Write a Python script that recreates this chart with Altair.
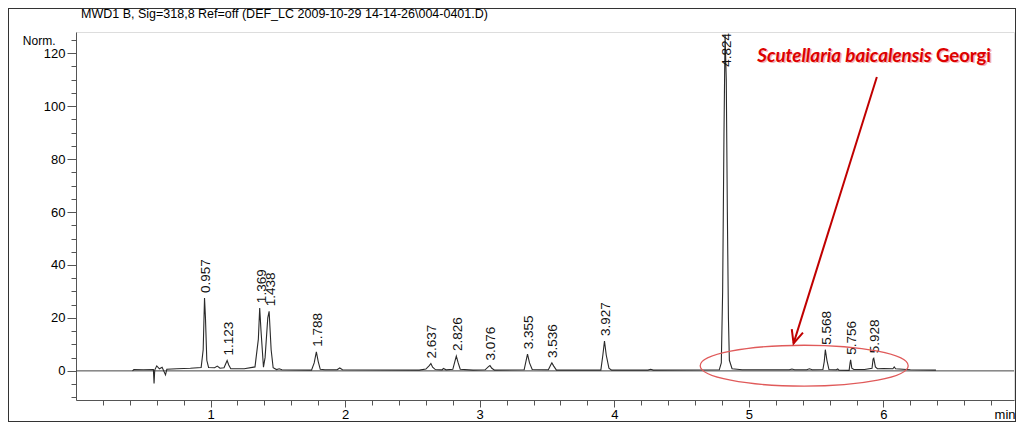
import altair as alt
import pandas as pd

# ---------------- data ----------------
TITLE = "MWD1 B, Sig=318,8 Ref=off (DEF_LC 2009-10-29 14-14-26\\004-0401.D)"

# chromatogram trace (time in min, signal in Norm.)
trace_t = [0.42, 0.43, 0.50, 0.575, 0.58, 0.585, 0.60, 0.62, 0.64, 0.665, 0.675, 0.75, 0.85, 0.93,
           0.945, 0.955, 0.962, 0.972, 0.985, 1.03, 1.05, 1.07, 1.10, 1.115, 1.123, 1.135, 1.15,
           1.25, 1.33, 1.355, 1.365, 1.375, 1.393, 1.405, 1.425, 1.435, 1.45, 1.465, 1.49, 1.51,
           1.53, 1.75, 1.77, 1.786, 1.80, 1.815, 1.85, 1.94, 1.96, 1.98, 2.55, 2.60, 2.625, 2.637,
           2.65, 2.67, 2.72, 2.73, 2.75, 2.80, 2.815, 2.826, 2.84, 2.855, 2.95, 3.04, 3.065, 3.076,
           3.09, 3.11, 3.33, 3.345, 3.355, 3.37, 3.39, 3.51, 3.53, 3.536, 3.55, 3.57, 3.90, 3.915,
           3.927, 3.94, 3.96, 3.98, 4.25, 4.27, 4.29, 4.78, 4.795, 4.805, 4.815, 4.823, 4.832, 4.84,
           4.848, 4.855, 4.875, 4.95, 5.30, 5.32, 5.34, 5.43, 5.45, 5.47, 5.55, 5.56, 5.568, 5.58,
           5.595, 5.65, 5.66, 5.67, 5.745, 5.752, 5.756, 5.765, 5.78, 5.86, 5.915, 5.923, 5.928,
           5.94, 5.955, 6.00, 6.07, 6.08, 6.09, 6.20, 6.39]
trace_v = [0.0, 0.5, 0.4, 0.5, -4.8, 0.3, 1.9, 0.8, 1.4, -1.5, 0.6, 0.8, 1.0, 1.3,
           8.0, 27.5, 20.0, 4.0, 1.3, 1.2, 1.8, 1.0, 1.2, 3.0, 3.9, 2.2, 0.8,
           0.8, 1.5, 12.0, 23.7, 15.0, 1.4, 5.0, 20.0, 22.5, 8.0, 1.2, 0.5, 0.8,
           0.4, 0.3, 3.0, 7.2, 3.5, 0.6, 0.4, 0.4, 1.1, 0.4, 0.3, 0.7, 2.0, 2.8,
           1.4, 0.5, 0.4, 0.9, 0.4, 0.6, 3.5, 5.6, 3.0, 0.6, 0.3, 0.4, 1.6, 2.0,
           1.0, 0.3, 0.4, 4.0, 6.3, 3.0, 0.5, 0.4, 2.5, 3.0, 1.8, 0.3, 0.3, 6.0,
           11.3, 6.0, 1.0, 0.3, 0.3, 0.6, 0.3, 0.4, 3.0, 30.0, 90.0, 127.0, 110.0, 60.0,
           20.0, 4.0, 0.8, 0.4, 0.4, 0.7, 0.4, 0.4, 0.8, 0.4, 0.5, 3.5, 8.0, 4.0,
           0.5, 0.4, 0.7, 0.3, 0.2, 3.0, 4.2, 1.0, 0.5, 0.5, 1.0, 4.5, 4.8,
           1.5, 0.8, 0.9, 0.8, 1.5, 0.8, 0.4, 0.3]

# peak retention-time labels and apex heights
peak_labels = ["0.957", "1.123", "1.369", "1.438", "1.788", "2.637", "2.826", "3.076",
               "3.355", "3.536", "3.927", "4.824", "5.568", "5.756", "5.928"]
peak_times = [0.957, 1.123, 1.369, 1.438, 1.788, 2.637, 2.826, 3.076,
              3.355, 3.536, 3.927, 4.824, 5.568, 5.756, 5.928]
peak_heights = [27.5, 3.9, 23.7, 22.5, 7.2, 2.8, 5.6, 2.0,
                6.3, 3.0, 11.3, 127.0, 8.0, 4.2, 4.8]

# annotation (species name, arrow, ellipse) in data coordinates
species_italic = "Scutellaria baicalensis"
species_plain = "Georgi"
species_t = [5.062, 6.39]
species_v = [119.0, 119.0]
arrow_t = [5.951, 5.332]
arrow_v = [111.0, 10.4]
ellipse_t = [5.411]
ellipse_v = [1.95]

x_major = [1, 2, 3, 4, 5, 6]
x_minor = [round(0.2 * i, 1) for i in range(1, 35) if i % 5 != 0]
y_major = [0, 20, 40, 60, 80, 100, 120]
y_minor = [v for v in range(-10, 126, 5) if v % 20 != 0]

# ---------------- chart ----------------
FONT = "Liberation Sans, Arial, sans-serif"
W, H = 938, 368
PAD = {"left": 68, "top": 24, "right": 2, "bottom": 22}
AX = "#555555"

xs = alt.Scale(domain=[0, 6.97], nice=False, zero=False)
ys = alt.Scale(domain=[-11, 128], nice=False, zero=False)

trace_df = pd.DataFrame({"t": trace_t, "v": trace_v})
peaks_df = pd.DataFrame({"t": peak_times, "h": peak_heights, "label": peak_labels})

x_axis = alt.Axis(values=x_major, format="d", tickSize=7, labelFont=FONT, labelFontSize=13,
                  labelColor="#000000", labelPadding=1, domainColor=AX, tickColor=AX, grid=False,
                  orient="bottom", title="min", titleFont=FONT, titleFontSize=13,
                  titleFontWeight="normal", titleColor="#000000", titleAlign="right",
                  titleAnchor="end", titleX=W + 1, titleY=14, titleBaseline="middle")
y_axis = alt.Axis(values=y_major, format="d", tickSize=9, labelFont=FONT, labelFontSize=13,
                  labelColor="#000000", labelPadding=2, domainColor=AX, tickColor=AX, grid=False,
                  orient="left", title="Norm.", titleFont=FONT, titleFontSize=12,
                  titleFontWeight="normal", titleColor="#000000", titleAngle=0,
                  titleAlign="right", titleX=-21, titleY=8, titleBaseline="middle")
x_axis_minor = alt.Axis(values=x_minor, tickSize=5, labels=False, domain=False, tickColor=AX,
                        grid=False, orient="bottom", title="")
y_axis_minor = alt.Axis(values=y_minor, tickSize=5, labels=False, domain=False, tickColor=AX,
                        grid=False, orient="left", title="")

zero = alt.Chart(pd.DataFrame({"z": [0]})).mark_rule(color="#444444", strokeWidth=1).encode(
    y=alt.Y("z:Q", scale=ys, axis=None))

trace = alt.Chart(trace_df).mark_line(color="#2a2a2a", strokeWidth=1.1, clip=True).encode(
    x=alt.X("t:Q", scale=xs, axis=x_axis),
    y=alt.Y("v:Q", scale=ys, axis=y_axis))

minor = alt.Chart(trace_df).mark_point(opacity=0).encode(
    x=alt.X("t:Q", scale=xs, axis=x_axis_minor),
    y=alt.Y("v:Q", scale=ys, axis=y_axis_minor))

labels = alt.Chart(peaks_df).transform_calculate(ly="min(datum.h, 113)").mark_text(
    angle=270, align="left", baseline="middle", dx=5, dy=1.5, font=FONT, fontSize=13.5,
    color="#111111").encode(
    x=alt.X("t:Q", scale=xs, axis=None),
    y=alt.Y("ly:Q", scale=ys, axis=None),
    text="label:N")

sp_df = pd.DataFrame({"t": species_t, "v": species_v,
                      "txt": [species_italic, species_plain]})
ANN_FONT = "Lato, Open Sans, sans-serif"


def species_text(row, size, style, color, off):
    kw = dict(align="left", baseline="middle", font=ANN_FONT, fontSize=size,
              fontWeight="bold", color=color, dx=off, dy=off)
    if style == "italic":
        kw["fontStyle"] = "italic"
    return alt.Chart(sp_df.iloc[[row]]).mark_text(**kw).encode(
        x=alt.X("t:Q", scale=xs, axis=None), y=alt.Y("v:Q", scale=ys, axis=None),
        text="txt:N")


sp_layers = [
    species_text(0, 18.8, "italic", "#f2b4b4", 1.5),
    species_text(1, 18.5, "normal", "#f2b4b4", 1.5),
    species_text(0, 18.8, "italic", "#dd0000", 0),
    species_text(1, 18.5, "normal", "#dd0000", 0),
]

arrow_df = pd.DataFrame({"t": [arrow_t[0]], "v": [arrow_v[0]], "t2": [arrow_t[1]], "v2": [arrow_v[1]]})
arrow_line = alt.Chart(arrow_df).mark_rule(color="#c00000", strokeWidth=2).encode(
    x=alt.X("t:Q", scale=xs, axis=None), y=alt.Y("v:Q", scale=ys, axis=None),
    x2="t2:Q", y2="v2:Q")
head_df = pd.DataFrame({"t": [arrow_t[1]], "v": [arrow_v[1]]})
arrow_head = alt.Chart(head_df).mark_point(
    shape="M-0.45,-1L0,0L0.45,-1", filled=False, color="#c00000", strokeWidth=2,
    size=676, angle=17, opacity=1).encode(
    x=alt.X("t:Q", scale=xs, axis=None), y=alt.Y("v:Q", scale=ys, axis=None))

ELLIPSE = ("M-1,0C-1,-0.1088,-0.5523,-0.197,0,-0.197C0.5523,-0.197,1,-0.1088,1,0"
           "C1,0.1088,0.5523,0.197,0,0.197C-0.5523,0.197,-1,0.1088,-1,0Z")
ell_df = pd.DataFrame({"t": ellipse_t, "v": ellipse_v})
ellipse = alt.Chart(ell_df).mark_point(
    shape=ELLIPSE, filled=False, color="#e05a5a", strokeWidth=1.3, size=208 * 208,
    opacity=1).encode(
    x=alt.X("t:Q", scale=xs, axis=None), y=alt.Y("v:Q", scale=ys, axis=None))

# chart title (drawn as text so it sits exactly in the top band)
title_df = pd.DataFrame({"txt": [TITLE]})
title = alt.Chart(title_df).mark_text(
    align="left", baseline="alphabetic", font=FONT, fontSize=12.5, color="#000000").encode(
    x=alt.value(5), y=alt.value(-14), text="txt:N")

# outer frame of the picture (decoration)
frame_df = pd.DataFrame({"k": [0]})
FR = "#333333"
frame_left = alt.Chart(frame_df).mark_rule(color=FR, strokeWidth=1).encode(
    x=alt.value(-PAD["left"] + 0.5), y=alt.value(-PAD["top"]), y2=alt.value(H + PAD["bottom"]))
frame_right = alt.Chart(frame_df).mark_rule(color=FR, strokeWidth=1).encode(
    x=alt.value(W + PAD["right"] - 0.5), y=alt.value(-PAD["top"]), y2=alt.value(H + PAD["bottom"]))
frame_top = alt.Chart(frame_df).mark_rule(color=FR, strokeWidth=1).encode(
    x=alt.value(-PAD["left"]), x2=alt.value(W + PAD["right"]), y=alt.value(-PAD["top"] + 0.5))
frame_bottom = alt.Chart(frame_df).mark_rule(color=FR, strokeWidth=1).encode(
    x=alt.value(-PAD["left"]), x2=alt.value(W + PAD["right"]), y=alt.value(H + PAD["bottom"] - 0.5))

chart = alt.layer(
    zero, trace, minor, labels, ellipse, arrow_line, arrow_head, *sp_layers, title,
    frame_left, frame_right, frame_top, frame_bottom
).resolve_axis(x="independent", y="independent").properties(
    width=W, height=H, autosize="none", padding=PAD
).configure_view(strokeWidth=0).configure(background="white")

chart.save("out.html", embed_options={"renderer": "svg", "actions": False})
